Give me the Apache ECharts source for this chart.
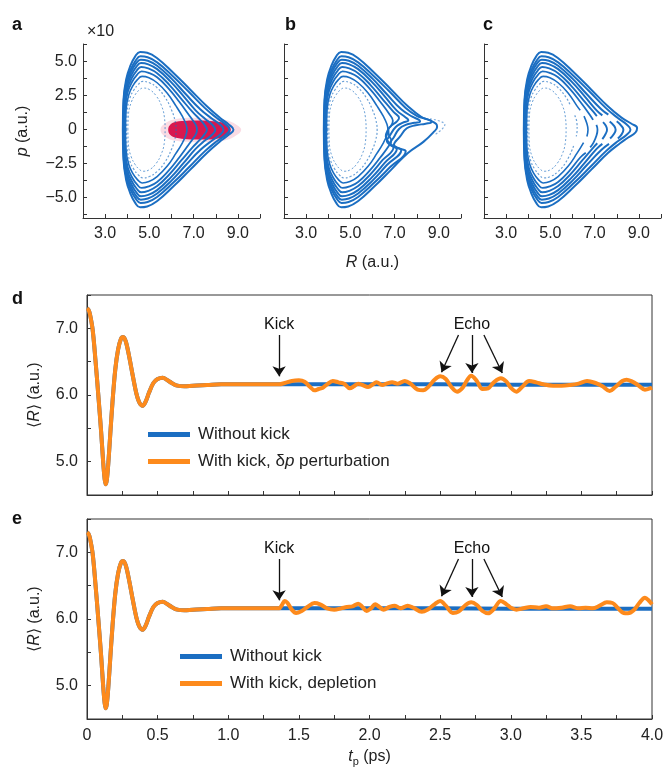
<!DOCTYPE html>
<html>
<head>
<meta charset="utf-8">
<script src="https://cdn.jsdelivr.net/npm/echarts@6/dist/echarts.min.js"></script>
<style>
html,body{margin:0;padding:0;background:#fff}
#chart{width:665px;height:773px}
</style>
</head>
<body>
<div id="chart"></div>
<script>
// phase-space contours, panel a: upper halves [R, p], left turning point -> right tip
var curvesA = [
  [[3.80,0],[3.83,2.2],[3.95,3.7],[4.13,4.65],[4.36,5.39],[4.58,5.71],[4.9,5.65],[5.34,5.27],[6.09,4.17],[6.85,2.94],[7.60,1.72],[8.2,0.86],[8.6,0.36],[8.80,0]],
  [[3.81,0],[3.84,2.1],[3.96,3.5],[4.15,4.4],[4.38,5.08],[4.60,5.39],[4.92,5.32],[5.35,4.95],[6.05,3.95],[6.8,2.75],[7.5,1.6],[8.05,0.85],[8.45,0.38],[8.62,0]],
  [[3.82,0],[3.85,2.0],[3.97,3.35],[4.16,4.2],[4.39,4.85],[4.61,5.15],[4.93,5.07],[5.35,4.7],[6.0,3.75],[6.65,2.6],[7.3,1.5],[7.85,0.78],[8.2,0.36],[8.35,0]],
  [[3.84,0],[3.87,1.9],[3.99,3.2],[4.18,4.0],[4.40,4.6],[4.62,4.90],[4.95,4.8],[5.35,4.45],[5.95,3.55],[6.55,2.45],[7.1,1.4],[7.55,0.75],[7.85,0.35],[7.98,0]],
  [[3.86,0],[3.89,1.8],[4.01,3.0],[4.2,3.78],[4.42,4.33],[4.63,4.61],[4.95,4.5],[5.35,4.15],[5.9,3.3],[6.45,2.25],[6.95,1.3],[7.3,0.72],[7.5,0.33],[7.60,0]],
  [[3.88,0],[3.91,1.7],[4.03,2.8],[4.22,3.52],[4.44,4.03],[4.65,4.29],[4.97,4.18],[5.35,3.85],[5.85,3.05],[6.35,2.05],[6.78,1.1],[7.0,0.6],[7.12,0.28],[7.15,0]],
  [[3.92,0],[3.95,1.55],[4.07,2.57],[4.25,3.22],[4.46,3.68],[4.67,3.92],[4.98,3.82],[5.35,3.45],[5.8,2.7],[6.2,1.75],[6.5,0.95],[6.65,0.42],[6.70,0]],
  [[3.97,0],[4.0,1.4],[4.12,2.33],[4.3,2.92],[4.5,3.33],[4.70,3.55],[5.0,3.45],[5.35,3.08],[5.72,2.35],[6.0,1.45],[6.15,0.72],[6.21,0]],
  [[4.03,0],[4.06,1.2],[4.18,2.0],[4.35,2.55],[4.53,2.9],[4.72,3.06],[5.0,2.95],[5.3,2.5],[5.55,1.75],[5.68,0.9],[5.71,0]]
];
// panels b and c: same contours, but the right end of some is replaced
// [curve, points kept from its left part, new right-hand path top -> bottom]; null = gap
var tipsB = [
  [0, 11, [[8.2,0.95],[8.6,0.68],[8.88,0.42],[8.92,0.2],[8.75,-0.2],[8.3,-0.9]]],
  [1, 11, [[8.0,1.02],[8.38,0.8],[8.62,0.68],[8.67,0.56],[8.4,0.44],[7.95,0.32],[7.55,0.1],[7.25,-0.5],[6.97,-1.12],[7.2,-1.38]]],
  [2, 11, [[7.8,0.95],[8.1,0.72],[8.15,0.6],[7.9,0.5],[7.5,0.35],[7.2,0.05],[6.95,-0.6],[6.8,-1.0],[7.0,-1.28]]],
  [3, 11, [[7.5,0.9],[7.62,0.7],[7.35,0.5],[7.05,0.2],[6.8,-0.4],[6.65,-0.85],[6.85,-1.18]]],
  [4, 11, [[7.2,0.85],[7.1,0.6],[6.85,0.3],[6.7,0],[6.6,-0.5],[6.75,-0.95]]],
  [5, 11, [[6.92,0.65],[6.85,0.3],[6.72,0],[6.75,-0.45],[6.85,-0.8]]]
];
var tipsC = [
  [0, 11, [[8.2,0.9],[8.65,0.45],[8.92,0.12],[8.85,-0.2],[8.5,-0.6],[8.15,-1.0]]],
  [2, 11, [[7.62,1.1], null, [8.0,0.62],[8.2,0.3],[8.3,0],[8.22,-0.35],[8.05,-0.65], null, [7.65,-1.05]]],
  [3, 11, [[7.35,1.05], null, [7.68,0.6],[7.88,0.28],[7.95,0],[7.88,-0.3],[7.7,-0.65], null, [7.35,-1.05]]],
  [4, 11, [[7.1,1.0], null, [7.38,0.55],[7.52,0.25],[7.56,0],[7.5,-0.3],[7.35,-0.7], null, [7.12,-1.0]]],
  [5, 10, [[6.78,1.1],[6.93,0.72], null, [7.08,0.35],[7.13,0],[7.08,-0.45],[6.95,-0.95],[6.8,-1.3], null, [6.6,-1.7]]],
  [6, 10, [[6.35,1.42], null, [6.52,1.0],[6.65,0.45],[6.70,0],[6.65,-0.5], null, [6.5,-0.95]]],
  [7, 9, [[5.9,1.8], null, [6.1,1.05],[6.2,0.5],[6.21,0],[6.17,-0.5], null, [6.05,-1.2]]]
];
// faint outermost particles beyond the tip in b
var faintTipB = [[8.6,0.8],[9.05,0.62],[9.27,0.37],[9.15,0.05],[8.8,-0.4]];
// initial distribution (red cloud) outline and its sparse halo
var blobCore = [[5.85,0],[5.95,0.38],[6.2,0.58],[6.7,0.66],[7.3,0.67],[7.9,0.62],[8.3,0.52],[8.58,0.3],[8.68,0],[8.58,-0.33],[8.3,-0.58],[7.9,-0.7],[7.3,-0.73],[6.7,-0.7],[6.2,-0.6],[5.95,-0.4]];
var blobHalo = [[5.5,0],[5.7,0.45],[6.2,0.78],[7.3,0.86],[8.4,0.72],[8.95,0.35],[9.15,0],[8.95,-0.4],[8.4,-0.8],[7.3,-0.92],[6.2,-0.82],[5.7,-0.5]];

// <R>(t) [t ps, R a.u.]: common early part, then the three tails
var earlyPart = [[0,7.30],[0.01,7.28],[0.02,7.22],[0.04,6.98],[0.06,6.52],[0.08,6.00],[0.10,5.45],[0.115,4.98],[0.125,4.74],[0.132,4.66],[0.14,4.72],[0.15,4.95],[0.165,5.42],[0.18,5.88],[0.20,6.38],[0.22,6.68],[0.24,6.84],[0.257,6.87],[0.275,6.80],[0.30,6.56],[0.325,6.28],[0.35,6.02],[0.37,5.89],[0.394,5.84],[0.415,5.90],[0.44,6.04],[0.47,6.18],[0.50,6.24],[0.536,6.26],[0.57,6.22],[0.60,6.18],[0.64,6.14],[0.69,6.13],[0.75,6.14],[0.85,6.15],[0.95,6.16],[1.1,6.16],[1.25,6.16],[1.36,6.16]];
var blueLate = [[1.6,6.16],[2.0,6.16],[2.5,6.16],[3.0,6.155],[3.5,6.155],[4.0,6.155]];
var orangeLateD = [[1.40,6.18],[1.45,6.21],[1.50,6.22],[1.54,6.20],[1.58,6.12],[1.61,6.07],[1.64,6.09],[1.67,6.11],[1.70,6.16],[1.74,6.21],[1.78,6.19],[1.82,6.17],[1.86,6.10],[1.89,6.13],[1.92,6.17],[1.95,6.15],[1.99,6.12],[2.03,6.17],[2.05,6.19],[2.09,6.15],[2.12,6.17],[2.16,6.19],[2.20,6.17],[2.25,6.21],[2.29,6.17],[2.34,6.08],[2.38,6.07],[2.42,6.13],[2.46,6.23],[2.50,6.28],[2.54,6.24],[2.58,6.12],[2.62,6.05],[2.66,6.11],[2.69,6.22],[2.72,6.29],[2.76,6.21],[2.80,6.09],[2.84,6.10],[2.88,6.19],[2.93,6.25],[2.97,6.20],[3.00,6.11],[3.04,6.05],[3.08,6.12],[3.13,6.21],[3.18,6.19],[3.23,6.16],[3.30,6.14],[3.36,6.14],[3.42,6.15],[3.48,6.17],[3.54,6.21],[3.60,6.18],[3.65,6.13],[3.70,6.06],[3.74,6.12],[3.79,6.21],[3.82,6.23],[3.86,6.20],[3.90,6.15],[3.95,6.08],[4.0,6.11]];
var orangeLateE = [[1.38,6.21],[1.40,6.27],[1.42,6.24],[1.45,6.14],[1.48,6.09],[1.52,6.12],[1.56,6.18],[1.61,6.24],[1.65,6.22],[1.70,6.16],[1.75,6.14],[1.80,6.16],[1.84,6.18],[1.88,6.19],[1.92,6.23],[1.95,6.18],[1.98,6.12],[2.01,6.16],[2.04,6.22],[2.07,6.18],[2.10,6.14],[2.14,6.18],[2.18,6.20],[2.22,6.16],[2.27,6.20],[2.31,6.17],[2.37,6.11],[2.41,6.14],[2.46,6.22],[2.50,6.27],[2.54,6.20],[2.59,6.09],[2.63,6.11],[2.68,6.21],[2.72,6.25],[2.76,6.21],[2.80,6.12],[2.84,6.085],[2.88,6.15],[2.93,6.27],[2.97,6.22],[3.00,6.17],[3.04,6.14],[3.09,6.16],[3.14,6.18],[3.20,6.17],[3.25,6.19],[3.30,6.16],[3.36,6.17],[3.42,6.19],[3.48,6.16],[3.53,6.17],[3.58,6.16],[3.63,6.20],[3.68,6.25],[3.72,6.24],[3.76,6.16],[3.80,6.09],[3.83,6.085],[3.87,6.13],[3.91,6.24],[3.95,6.32],[3.98,6.27],[4.0,6.22]];

var legendD = ['Without kick', 'With kick, δp perturbation'];
var legendE = ['Without kick', 'With kick, depletion'];
var pTicks = [-6.25,-5,-3.75,-2.5,-1.25,0,1.25,2.5,3.75,5,6.25];
var pLabels = [-5,-2.5,0,2.5,5];

var FONT = '"Liberation Sans", Arial, Helvetica, sans-serif';
var BLUE = '#1b6ec2', ORANGE = '#fd8a1c', RED = '#d8174f', INK = '#222';

var chart = echarts.init(document.getElementById('chart'));

function mirror(pts) {
  return pts.map(function (q) { return [q[0], -q[1]]; }).reverse();
}
// panel a is symmetric in p: lower half is the mirror of the upper half
function mirrorLoop(up) {
  return up.concat(mirror(up.slice(0, -1)));
}
function withTips(tips) {
  var loops = curvesA.map(mirrorLoop);
  tips.forEach(function (t) {
    var left = curvesA[t[0]].slice(0, t[1]);
    loops[t[0]] = left.concat(t[2]).concat(mirror(left));
  });
  return loops;
}
var loopsA = curvesA.map(mirrorLoop);
var loopsB = withTips(tipsB);
var loopsC = withTips(tipsC);
var widths = [2, 2, 2, 2, 1.9, 1.8, 1.6, 1.2, 1];

function phaseSeries(loops, idx) {
  return loops.map(function (loop, k) {
    return {
      type: 'line', xAxisIndex: idx, yAxisIndex: idx, data: loop,
      smooth: 0.45, symbol: 'none', silent: true, z: 3, connectNulls: false,
      lineStyle: {
        color: BLUE, width: widths[k], opacity: k > 6 ? 0.65 : 1,
        type: k > 6 ? [2, 2] : 'solid'
      }
    };
  });
}

function polySeries(pts, color, z) {
  return {
    type: 'custom', xAxisIndex: 0, yAxisIndex: 0, data: [[7, 0]], z: z, silent: true,
    renderItem: function (params, api) {
      return {
        type: 'polygon',
        shape: { points: pts.map(function (q) { return api.coord(q); }), smooth: 0.4 },
        style: { fill: color }
      };
    }
  };
}

var nameRich = {
  i: { fontFamily: FONT, fontSize: 16, fontStyle: 'italic', color: INK },
  s: { fontFamily: FONT, fontSize: 11, color: INK, padding: [9, 0, 0, 0] },
  n: { fontFamily: FONT, fontSize: 16, color: INK }
};

function phaseX(grid, showName) {
  return {
    type: 'value', gridIndex: grid, min: 2, max: 10, interval: 1,
    name: showName ? '{i|R}{n| (a.u.)}' : '', nameLocation: 'middle', nameGap: 37,
    nameTextStyle: { rich: nameRich },
    axisLine: { onZero: false, lineStyle: { color: '#333', width: 1 } },
    axisTick: { inside: true, length: 4, lineStyle: { color: '#333' } },
    axisLabel: { margin: 8, color: INK, fontFamily: FONT, fontSize: 16,
      formatter: function (v) { return (v % 2 === 1) ? v.toFixed(1) : ''; } },
    splitLine: { show: false }
  };
}
function phaseY(grid, showLabels) {
  return {
    type: 'value', gridIndex: grid, min: -6.5, max: 6.3,
    name: showLabels ? '{i|p}{n| (a.u.)}' : '', nameLocation: 'middle', nameGap: 52,
    nameTextStyle: { rich: nameRich },
    axisLine: { show: true, onZero: false, lineStyle: { color: '#333', width: 1 } },
    axisTick: { show: true, inside: true, length: 4, customValues: pTicks, lineStyle: { color: '#333' } },
    axisLabel: { show: showLabels, margin: 6, color: INK, fontFamily: FONT, fontSize: 16, customValues: pLabels,
      formatter: function (v) { return v === 0 ? '0' : (v < 0 ? '\u2212' : '') + Math.abs(v).toFixed(1); } },
    splitLine: { show: false }
  };
}
function timeX(grid, showLabels) {
  return {
    type: 'value', gridIndex: grid, min: 0, max: 4, interval: 0.25,
    name: showLabels ? '{i|t}{s|p}{n| (ps)}' : '', nameLocation: 'middle', nameGap: 28,
    nameTextStyle: { rich: nameRich },
    axisLine: { onZero: false, lineStyle: { color: '#333', width: 1 } },
    axisTick: { inside: true, length: 4, lineStyle: { color: '#333' } },
    axisLabel: { show: showLabels, margin: 9, color: INK, fontFamily: FONT, fontSize: 16,
      formatter: function (v) { return v === 0 ? '0' : ((v * 2) % 1 === 0 ? v.toFixed(1) : ''); } },
    splitLine: { show: false }
  };
}
function timeY(grid) {
  return {
    type: 'value', gridIndex: grid, min: 4.5, max: 7.5, interval: 0.5,
    name: '{n|\u27e8}{i|R}{n|\u27e9 (a.u.)}', nameLocation: 'middle', nameGap: 44,
    nameTextStyle: { rich: nameRich },
    axisLine: { show: true, onZero: false, lineStyle: { color: '#333', width: 1 } },
    axisTick: { show: true, inside: true, length: 4, lineStyle: { color: '#333' } },
    axisLabel: { margin: 9, color: INK, fontFamily: FONT, fontSize: 16,
      formatter: function (v) { return Math.abs(v - Math.round(v)) < 1e-6 ? v.toFixed(1) : ''; } },
    splitLine: { show: false }
  };
}

function arrows(list) {
  return {
    silent: true, symbol: ['none', 'arrow'], symbolSize: 10, animation: false,
    label: { show: false },
    lineStyle: { color: '#111', width: 1.3, type: 'solid', opacity: 1 },
    data: list.map(function (a) { return [{ coord: a[0] }, { coord: a[1] }]; })
  };
}
var notes = {
  symbol: 'rect', symbolSize: 0, silent: true, animation: false,
  label: { show: true, position: 'inside', formatter: '{b}', color: '#111', fontFamily: FONT, fontSize: 16 },
  data: [{ name: 'Kick', coord: [1.36, 7.06] }, { name: 'Echo', coord: [2.725, 7.06] }]
};
var arrowPts = [[[1.36, 6.90], [1.36, 6.28]], [[2.63, 6.90], [2.51, 6.34]], [[2.725, 6.90], [2.725, 6.33]], [[2.81, 6.90], [2.94, 6.33]]];

function timeSeries(grid, orangeName, orangeTail) {
  return [
    { type: 'line', name: 'Without kick', xAxisIndex: grid, yAxisIndex: grid,
      data: earlyPart.concat(blueLate), smooth: 0.35, symbol: 'none', z: 4,
      lineStyle: { color: BLUE, width: 4 }, itemStyle: { color: BLUE } },
    { type: 'line', name: orangeName, xAxisIndex: grid, yAxisIndex: grid,
      data: earlyPart.concat(orangeTail), smooth: 0.35, symbol: 'none', z: 5,
      lineStyle: { color: ORANGE, width: 4 }, itemStyle: { color: ORANGE },
      markLine: arrows(arrowPts), markPoint: notes }
  ];
}

var legendRich = {
  n: { fontFamily: FONT, fontSize: 17, color: INK },
  i: { fontFamily: FONT, fontSize: 17, fontStyle: 'italic', color: INK }
};
function legendFmt(name) {
  if (name.indexOf('\u03b4p') >= 0) return '{n|With kick, \u03b4}{i|p}{n| perturbation}';
  return '{n|' + name + '}';
}

var series = []
  .concat([polySeries(blobHalo, 'rgba(222,40,90,0.16)', 1), polySeries(blobCore, RED, 2)])
  .concat(phaseSeries(loopsA, 0))
  .concat(phaseSeries(loopsB, 1))
  .concat([{ type: 'line', xAxisIndex: 1, yAxisIndex: 1, data: faintTipB, smooth: 0.45, symbol: 'none',
    silent: true, z: 3, lineStyle: { color: BLUE, width: 1.2, opacity: 0.55, type: [2, 2] } }])
  .concat(phaseSeries(loopsC, 2))
  .concat(timeSeries(3, legendD[1], orangeLateD))
  .concat(timeSeries(4, legendE[1], orangeLateE));

// panel letters: [text, x, vertical centre]
var letters = [['a', 12, 25], ['b', 285, 25], ['c', 483, 25], ['d', 12, 299], ['e', 12, 519]];
var graphics = letters.map(function (l) {
  return { type: 'text', x: l[1], y: l[2], silent: true,
    style: { text: l[0], font: 'bold 18px ' + FONT, fill: '#111', verticalAlign: 'middle' } };
});
graphics.push({ type: 'text', x: 87, y: 32, silent: true,
  style: { text: '\u00d710', font: '16px ' + FONT, fill: INK, verticalAlign: 'middle' } });

chart.setOption({
  animation: false,
  backgroundColor: '#fff',
  grid: [
    { left: 83, top: 44, width: 177, height: 174, outerBoundsMode: 'none' },
    { left: 284, top: 44, width: 177, height: 174, outerBoundsMode: 'none' },
    { left: 484, top: 44, width: 177, height: 174, outerBoundsMode: 'none' },
    { left: 87, top: 295, width: 565, height: 200, show: true, borderColor: '#333', borderWidth: 1, outerBoundsMode: 'none' },
    { left: 87, top: 519, width: 565, height: 200, show: true, borderColor: '#333', borderWidth: 1, outerBoundsMode: 'none' }
  ],
  xAxis: [phaseX(0, false), phaseX(1, true), phaseX(2, false), timeX(3, false), timeX(4, true)],
  yAxis: [phaseY(0, true), phaseY(1, false), phaseY(2, false), timeY(3), timeY(4)],
  legend: [
    { data: legendD, left: 148, top: 426, padding: 0, orient: 'vertical', icon: 'rect', itemWidth: 42, itemHeight: 5,
      itemGap: 10, selectedMode: false, formatter: legendFmt, textStyle: { rich: legendRich, padding: [0, 0, 0, 3] } },
    { data: legendE, left: 180, top: 648, padding: 0, orient: 'vertical', icon: 'rect', itemWidth: 42, itemHeight: 5,
      itemGap: 10, selectedMode: false, formatter: legendFmt, textStyle: { rich: legendRich, padding: [0, 0, 0, 3] } }
  ],
  graphic: graphics,
  series: series
});
</script>
</body>
</html>
